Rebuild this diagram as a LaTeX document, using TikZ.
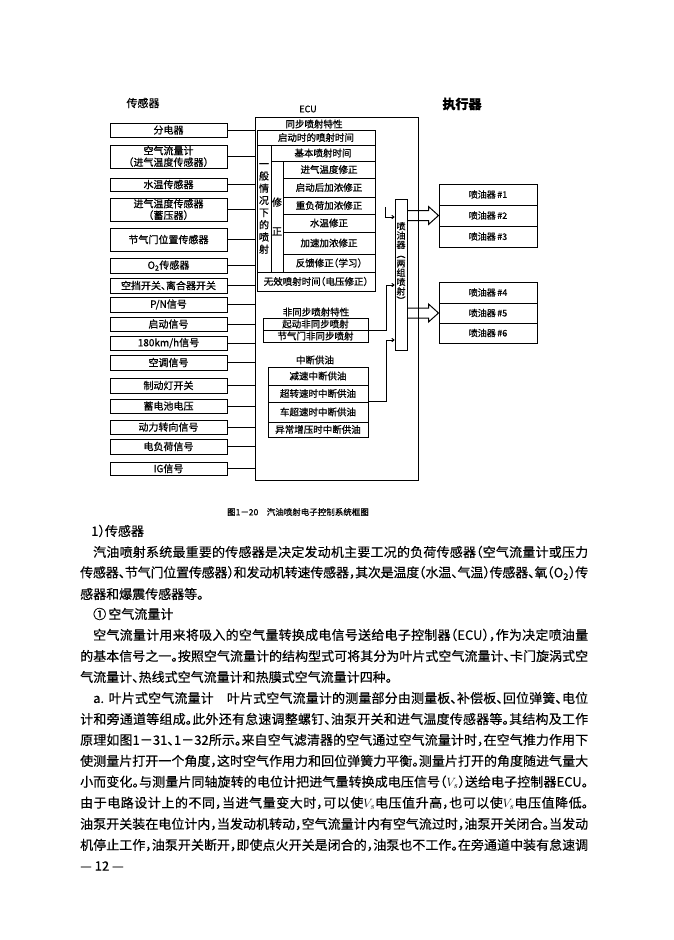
\documentclass[tikz,border=0pt]{standalone}
\usepackage{fontspec}
\setmainfont{Noto Sans CJK SC}[RawFeature=+halt, FakeBold=0.3]
\newfontfamily\diagfont{Noto Sans CJK SC}[RawFeature=+halt, FakeBold=0.8]
\usetikzlibrary{calc,arrows.meta}
\XeTeXlinebreaklocale "zh"
\XeTeXlinebreakskip=0pt plus 1pt minus 1pt

\tikzset{
  box/.style={draw, line width=1pt, inner sep=0pt, align=center,
    font=\diagfont\fontsize{9.5}{11}\selectfont},
  sensor/.style={font=\diagfont\fontsize{10}{11.5}\selectfont},
  link/.style={line width=1pt},
  feed/.style={line width=1pt, -{To[length=3pt,width=4pt]}},
  headtext/.style={inner sep=0pt, font=\diagfont\fontsize{11}{13}\selectfont},
  vtext/.style={inner sep=0pt, align=center, font=\diagfont\fontsize{10}{12.2}\selectfont},
  bodyline/.style={anchor=west, inner sep=0pt, font=\fontsize{13}{15}\selectfont},
  fullline/.style={bodyline, text width=#1, align=justify,
    execute at begin node={\parfillskip=0pt\relax}},
}

% cell: name, x1, y1, x2, y2 (page pixels), text
\newcommand{\cellbox}[7][]{%
  \node[box,#1,minimum width={(#5-#3)*1pt},minimum height={(#6-#4)*1pt}]
    (#2) at ({(#3+#5)/2},{(#4+#6)/2}) {#7};}

% hollow arrow from the driver to an injector
\newcommand{\blockarrow}[1]{%
  \draw[link] ($(drv.east |- #1.west)+(0,-5)$) -- ($(#1.west)+(-10,-5)$)
    -- ($(#1.west)+(-10,-9)$) -- (#1.west) -- ($(#1.west)+(-10,9)$)
    -- ($(#1.west)+(-10,5)$) -- ($(drv.east |- #1.west)+(0,5)$);}

\begin{document}
\begin{tikzpicture}[x=1pt,y=-1pt]
  \path[use as bounding box, fill=white] (0,0) rectangle (673,940);

  % titles
  \node[headtext] (senst) at (143,103) {传感器};
  \node[headtext, font=\diagfont\fontsize{9}{11}\selectfont] (ecut) at (308,109) {ECU};
  \node[headtext, font=\diagfont\fontsize{13}{15}\selectfont\bfseries] (actt) at (462,104) {执行器};

  \cellbox{ecu}{255}{117}{418}{480}{}

  % sensors
  \foreach \n/\ya/\yb/\t in {1/123/137/分电器,
      2/145/168/{空气流量计\\（进气温度传感器）},
      3/178/191/水温传感器,
      4/198/221/{进气温度传感器\\（蓄压器）},
      5/228/251/节气门位置传感器,
      6/258/273/{O\textsubscript{2}传感器},
      7/278/293/空挡开关、离合器开关,
      8/297/312/{P/N信号},
      9/317/331/启动信号,
      10/336/350/{180km/h信号},
      11/355/370/空调信号,
      12/378/393/制动灯开关,
      13/399/413/蓄电池电压,
      14/420/434/动力转向信号,
      15/439/454/电负荷信号,
      16/462/475/IG信号}
    {\cellbox[sensor]{s\n}{110}{\ya}{227}{\yb}{\t}}
  \foreach \n in {1,...,16}
    \draw[link] (s\n.east) -- (s\n.east -| ecu.west);

  % synchronous injection
  \node[headtext, font=\diagfont\fontsize{9.5}{11}\selectfont] (syncl) at (314,124) {同步喷射特性};
  \cellbox{st}{257}{130}{375}{145}{启动时的喷射时间}
  \cellbox[vtext]{gen}{257}{145}{271}{272}{一\\般\\情\\况\\下\\的\\喷\\射}
  \cellbox{base}{271}{145}{375}{161}{基本喷射时间}
  \cellbox[vtext]{corr}{271}{161}{283}{272}{修\\[17pt]正}
  \cellbox{c1}{283}{161}{375}{178}{进气温度修正}
  \cellbox{c2}{283}{178}{375}{197}{启动后加浓修正}
  \cellbox{c3}{283}{197}{375}{214}{重负荷加浓修正}
  \cellbox{c4}{283}{214}{375}{232}{水温修正}
  \cellbox{c5}{283}{232}{375}{254}{加速加浓修正}
  \cellbox{c6}{283}{254}{375}{272}{反馈修正（学习）}
  \cellbox{inv}{257}{272}{375}{291}{无效喷射时间（电压修正）}

  % asynchronous injection
  \node[headtext, font=\diagfont\fontsize{9.5}{11}\selectfont] (nsl) at (316,312) {非同步喷射特性};
  \cellbox{ns1}{263}{318}{368}{330}{起动非同步喷射}
  \cellbox{ns2}{263}{330}{368}{342}{节气门非同步喷射}

  % fuel cut
  \node[headtext, font=\diagfont\fontsize{9.5}{11}\selectfont] (fcl) at (315,360) {中断供油};
  \cellbox{fc1}{268}{367}{368}{385}{减速中断供油}
  \cellbox{fc2}{268}{385}{368}{402}{超转速时中断供油}
  \cellbox{fc3}{268}{402}{368}{422}{车超速时中断供油}
  \cellbox{fc4}{268}{422}{368}{437}{异常增压时中断供油}

  % injector driver
  \cellbox{drv}{395}{199}{407}{350}{}
  \node[vtext, font=\diagfont\fontsize{9}{9.3}\selectfont] (drvtxt) at (401,263)
    {喷\\油\\器\\︵\\两\\组\\喷\\射\\︶};
  \coordinate (syncout) at (385,207);
  \draw[feed] (syncout) |- (drv.west |- 0,217);
  \draw[feed] (ns1.south east) -- ++(18,0) |- (drv.west |- 0,285);
  \draw[feed] (fc3.north east) -- ++(18,0) |- (drv.west |- 0,340);

  % injectors
  \foreach \n/\ya/\yb in {1/184/205, 2/205/226, 3/226/247,
      4/282/303, 5/303/323, 6/323/343}
    {\cellbox[font=\diagfont\fontsize{9}{11}\selectfont]{inj\n}{439}{\ya}{537}{\yb}{喷油器\,\#\n}}
  \blockarrow{inj2}
  \blockarrow{inj5}

  % caption and page text
  \node[inner sep=0pt, font=\diagfont\fontsize{8.5}{10}\selectfont] (cap) at (298,512)
    {图1－20　汽油喷射电子控制系统框图};
  \node[bodyline] (t1) at (91,531) {1）传感器};
  \node[fullline=495pt] (t2) at (93,552) {汽油喷射系统最重要的传感器是决定发动机主要工况的负荷传感器（空气流量计或压力};
  \node[fullline=508pt] (t3) at (80,573) {传感器、节气门位置传感器）和发动机转速传感器，其次是温度（水温、气温）传感器、氧（O\textsubscript{2}）传};
  \node[bodyline] (t4) at (80,594) {感器和爆震传感器等。};
  \node[bodyline] (t5) at (93,614) {①\,空气流量计};
  \node[fullline=495pt] (t6) at (93,635) {空气流量计用来将吸入的空气量转换成电信号送给电子控制器（ECU），作为决定喷油量};
  \node[fullline=508pt] (t7) at (80,656) {的基本信号之一。按照空气流量计的结构型式可将其分为叶片式空气流量计、卡门旋涡式空};
  \node[bodyline] (t8) at (80,677) {气流量计、热线式空气流量计和热膜式空气流量计四种。};
  \node[fullline=495pt] (t9) at (93,698) {a. 叶片式空气流量计　叶片式空气流量计的测量部分由测量板、补偿板、回位弹簧、电位};
  \node[fullline=508pt] (t10) at (80,719) {计和旁通道等组成。此外还有怠速调整螺钉、油泵开关和进气温度传感器等。其结构及工作};
  \node[fullline=508pt] (t11) at (80,740) {原理如图1－31、1－32所示。来自空气滤清器的空气通过空气流量计时，在空气推力作用下};
  \node[fullline=508pt] (t12) at (80,761) {使测量片打开一个角度，这时空气作用力和回位弹簧力平衡。测量片打开的角度随进气量大};
  \node[fullline=508pt] (t13) at (80,782) {小而变化。与测量片同轴旋转的电位计把进气量转换成电压信号（$V_s$）送给电子控制器ECU。};
  \node[fullline=508pt] (t14) at (80,803) {由于电路设计上的不同，当进气量变大时，可以使$V_s$电压值升高，也可以使$V_s$电压值降低。};
  \node[fullline=508pt] (t15) at (80,824) {油泵开关装在电位计内，当发动机转动，空气流量计内有空气流过时，油泵开关闭合。当发动};
  \node[fullline=508pt] (t16) at (80,845) {机停止工作，油泵开关断开，即使点火开关是闭合的，油泵也不工作。在旁通道中装有怠速调};
  \node[bodyline] (t17) at (80,866) {— 12 —};
\end{tikzpicture}
\end{document}
